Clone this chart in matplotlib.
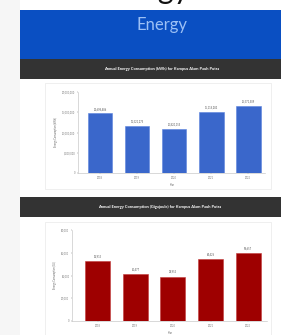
#!/usr/bin/env python3
"""Energy dashboard: annual consumption in kWh and in gigajoule."""

import matplotlib
matplotlib.use('Agg')
import matplotlib.pyplot as plt
from matplotlib.patches import Rectangle
from matplotlib.ticker import FuncFormatter

W, H = 281, 335

YEARS = ['2018', '2019', '2020', '2021', '2022']
KWH = [14698486, 11521275, 10820155, 15118283, 16571509]
GJ = [52915, 41477, 38953, 54426, 59657]
KWH_TICKS = [0, 5000000, 10000000, 15000000, 20000000]
GJ_TICKS = [0, 20000, 40000, 60000, 80000]

TITLE_KWH = 'Annual Energy Consumption (kWh) for Kampus Alam Pauh Putra'
TITLE_GJ = 'Annual Energy Consumption (Gigajoule) for Kampus Alam Pauh Putra'

plt.rcParams['font.family'] = ['Lato', 'DejaVu Sans']


def fx(x):
    return x / W


def fy(y):
    return 1 - y / H


def rect(fig, x0, y0, x1, y1, **kw):
    fig.patches.append(Rectangle((fx(x0), fy(y1)), (x1 - x0) / W, (y1 - y0) / H,
                                 transform=fig.transFigure, zorder=-5, **kw))


def bar_panel(fig, box, values, ticks, color, edge, ylabel, xlim):
    x0, y0, x1, y1 = box
    ax = fig.add_axes([fx(x0), fy(y1), (x1 - x0) / W, (y1 - y0) / H], zorder=2)
    ax.set_facecolor('none')
    xs = range(len(values))
    ax.bar(xs, values, width=0.66, color=color, edgecolor=edge, linewidth=0.4)
    for x, v in zip(xs, values):
        ax.text(x, v + ticks[-1] * 0.03, f'{v:,}', ha='center', va='bottom',
                fontsize=1.8, color='#555555')
    ax.set_xlim(*xlim)
    ax.set_ylim(0, ticks[-1])
    ax.set_yticks(ticks)
    ax.yaxis.set_major_formatter(FuncFormatter(lambda v, _: f'{int(v):,}'))
    ax.set_xticks(list(xs), YEARS)
    ax.tick_params(labelsize=1.8, colors='#777777', length=1, width=0.3, pad=1)
    for s in ('top', 'right'):
        ax.spines[s].set_visible(False)
    for s in ('left', 'bottom'):
        ax.spines[s].set_color('#bbbbbb')
        ax.spines[s].set_linewidth(0.4)
    ax.set_xlabel('Year', fontsize=1.8, color='#666666', labelpad=2)
    ax.set_ylabel(ylabel, fontsize=1.8, color='#666666', labelpad=3)
    return ax


fig = plt.figure(figsize=(W / 100, H / 100), dpi=100)
fig.patch.set_facecolor('white')

# page margin, banner and section headers
rect(fig, 0, 0, 20, H, color='#f6f6f6', lw=0)
rect(fig, 20, 10, W, 59, color='#0a4fc2', lw=0)
rect(fig, 20, 59, W, 79, color='#333333', lw=0)
rect(fig, 20, 197, W, 217, color='#333333', lw=0)
rect(fig, 45, 83, 271, 189, facecolor='white', edgecolor='#ececec', lw=0.6)
rect(fig, 45, 222, 271, 340, facecolor='white', edgecolor='#ececec', lw=0.6)

# heading above the banner, only its descenders are on the page
fig.text(fx(143), fy(-1), 'Energy', ha='center', va='baseline', fontsize=22,
         color='#111111', zorder=-4)
fig.text(fx(162), fy(25), 'Energy', ha='center', va='center', fontsize=12, color='#9cc0f5')
fig.text(fx(162), fy(69), TITLE_KWH, ha='center', va='center', fontsize=2.9,
         color='white', weight='bold')
fig.text(fx(160), fy(207), TITLE_GJ, ha='center', va='center', fontsize=2.9,
         color='white', weight='bold')

bar_panel(fig, (78, 92, 265, 173), KWH, KWH_TICKS, '#3a67cb', '#5a83dd',
          'Energy Consumption (kWh)', (-0.6, 4.45))
bar_panel(fig, (72, 230, 267, 321), GJ, GJ_TICKS, '#9e0000', '#c23a3a',
          'Energy Consumption (GJ)', (-0.68, 4.5))

fig.savefig('out.png', dpi=100)
